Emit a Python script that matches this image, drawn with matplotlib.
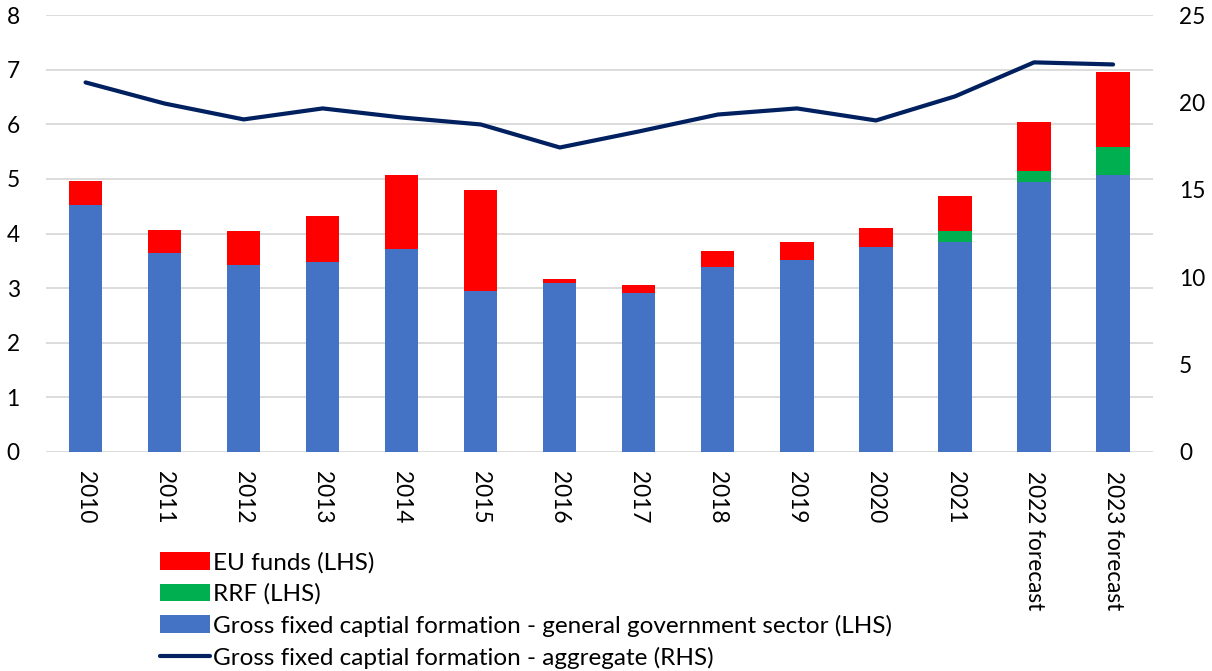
import numpy as np
import matplotlib.pyplot as plt

plt.rcParams['font.family'] = ['Lato', 'DejaVu Sans']

years = ['2010', '2011', '2012', '2013', '2014', '2015', '2016', '2017',
         '2018', '2019', '2020', '2021', '2022 forecast', '2023 forecast']
gfcf_gov = [4.53, 3.65, 3.43, 3.47, 3.72, 2.95, 3.10, 2.90, 3.39, 3.52, 3.76, 3.85, 4.95, 5.08]
rrf = [0, 0, 0, 0, 0, 0, 0, 0, 0, 0, 0, 0.20, 0.20, 0.50]
eu_funds = [0.44, 0.42, 0.62, 0.86, 1.36, 1.84, 0.06, 0.16, 0.28, 0.33, 0.35, 0.64, 0.90, 1.39]
gfcf_total = [21.16, 19.95, 19.04, 19.67, 19.15, 18.75, 17.43, 18.35, 19.32, 19.67, 18.98, 20.36, 22.31, 22.19]

blue = '#4472C4'
green = '#00B050'
red = '#FF0000'
navy = '#002060'
fs = 16.3
lfs = 17.5

fig = plt.figure(figsize=(12.12, 6.71), dpi=100)
ax = fig.add_axes([0.038, 0.327, 0.913, 0.650])
ax2 = ax.twinx()

x = np.arange(len(years))
w = 0.42
gov = np.array(gfcf_gov)
rr = np.array(rrf)
b1 = ax.bar(x, gov, w, color=blue, zorder=2,
            label='Gross fixed captial formation - general government sector (LHS)')
b2 = ax.bar(x, rr, w, bottom=gov, color=green, zorder=2, label='RRF (LHS)')
b3 = ax.bar(x, eu_funds, w, bottom=gov + rr, color=red, zorder=2, label='EU funds (LHS)')
l1, = ax2.plot(x, gfcf_total, color=navy, lw=3, solid_capstyle='round',
               label='Gross fixed captial formation - aggregate (RHS)')

ax.set_xlim(-0.5, len(years) - 0.5)
ax.set_ylim(0, 8)
ax.set_yticks(range(0, 9))
ax2.set_ylim(0, 25)
ax2.set_yticks(range(0, 26, 5))
ax.yaxis.grid(True, color='#D9D9D9', lw=1.3, zorder=0)
ax.set_axisbelow(True)

for a in (ax, ax2):
    for s in a.spines.values():
        s.set_visible(False)
    a.tick_params(length=0, labelsize=fs)
ax.tick_params(axis='y', pad=19)
ax2.tick_params(axis='y', pad=19)
ax.set_xticks(x)
ax.set_xticklabels(years, rotation=-90, ha='center', va='top')
ax.tick_params(axis='x', pad=14)

fig.legend([b3, b2, b1, l1],
           [b3.get_label(), b2.get_label(), b1.get_label(), l1.get_label()],
           loc='upper left', bbox_to_anchor=(0.132, 0.177), bbox_transform=fig.transFigure,
           frameon=False, fontsize=lfs, handlelength=2.05, handleheight=0.75,
           handletextpad=0.12, labelspacing=0.4, borderpad=0, borderaxespad=0)

fig.savefig('out.png', dpi=100)
